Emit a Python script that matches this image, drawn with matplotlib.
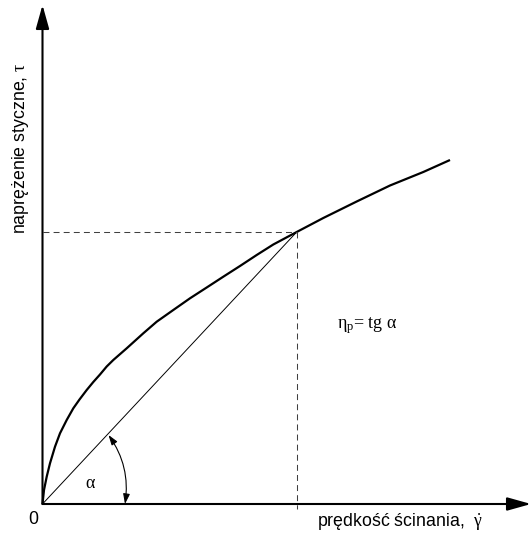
import matplotlib
matplotlib.use('Agg')
import matplotlib.pyplot as plt

plt.rcParams['font.family'] = ['Liberation Sans', 'DejaVu Sans']
# greckie litery proste, szeryfowe (jak Symbol/Times)
plt.rcParams['mathtext.fontset'] = 'custom'
plt.rcParams['mathtext.rm'] = 'Liberation Serif'
plt.rcParams['mathtext.it'] = 'Liberation Serif'
plt.rcParams['mathtext.bf'] = 'Liberation Serif:bold'

# krzywa plyniecia (jednostki umowne)
shear_rate = [0, 1.5, 4.2, 7.5, 12.5, 17.5, 24.2, 30.8, 37, 44.2, 50.8, 57.5,
              64.2, 70.8, 84.2, 100.8, 114.2, 130.8, 147.5, 164.2, 180.8,
              197.5, 214.2, 230.8, 254.2, 280.8, 314.2, 347.5, 380.8, 407.5]
shear_stress = [0, 14, 27.3, 40.7, 57.3, 70.7, 84, 95.7, 104.5, 114, 122, 129.5,
                137.5, 144, 155.7, 170.7, 182.3, 194, 205.7, 216.5, 227.3,
                238, 249, 259.5, 272, 286, 302.5, 318.5, 332, 344]

# punkt P na krzywej
p_x, p_y = 254.2, 272

x_max, y_max = 488.5, 499

fig = plt.figure(figsize=(5.32, 5.43), dpi=100)
ax = fig.add_axes([0, 0, 1, 1])
ax.set_xlim(-42.5, 489.5)
ax.set_ylim(-39, 504)
ax.axis('off')

# osie ze strzalkami
ax.annotate('', xy=(0, y_max), xytext=(0, 0),
            arrowprops=dict(arrowstyle='-|>,head_length=1.0,head_width=0.28',
                            lw=1.5, color='black', shrinkA=0, shrinkB=0,
                            mutation_scale=14.5))
ax.annotate('', xy=(x_max, 0), xytext=(0, 0),
            arrowprops=dict(arrowstyle='-|>,head_length=1.0,head_width=0.28',
                            lw=1.5, color='black', shrinkA=0, shrinkB=0,
                            mutation_scale=14.5))

# krzywa
ax.plot(shear_rate, shear_stress, color='black', lw=1.6,
        solid_joinstyle='round', solid_capstyle='butt')

# sieczna
ax.plot([0, p_x], [0, p_y], color='black', lw=0.7)

# linie przerywane
ax.plot([0, p_x], [p_y, p_y], color='#404040', lw=0.75, linestyle=(0, (5.7, 4)))
ax.plot([p_x, p_x], [p_y, -5], color='#404040', lw=0.75, linestyle=(0, (5.7, 4)))

# luk kata alfa
ax.annotate('', xy=(66, 69), xytext=(82.5, 0),
            arrowprops=dict(arrowstyle='<|-|>,head_length=0.6,head_width=0.2',
                            lw=0.8, color='black', shrinkA=0, shrinkB=0,
                            connectionstyle='arc3,rad=0.2', mutation_scale=10))
ax.text(47.7, 20.7, 'α', fontsize=13, family='Liberation Serif',
        ha='center', va='center')

ax.text(294.5, 176, r'$\eta_{\mathrm{p}}$= tg α', fontsize=13,
        family=['Liberation Serif', 'DejaVu Serif'], ha='left', va='baseline')

ax.text(-9.2, -15.3, '0', fontsize=12.8, ha='center', va='center')
ax.text(274.2, -23, r'prędkość ścinania,  $\dot{\gamma}$', fontsize=12.8,
        ha='left', va='baseline')
ax.text(-22, 356, r'naprężenie styczne, $\tau$', fontsize=12.8, rotation=90,
        ha='center', va='center')

fig.savefig('out.png', dpi=100)
